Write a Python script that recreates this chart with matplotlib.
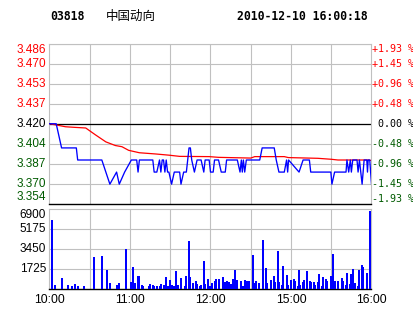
import matplotlib
matplotlib.use("Agg")
import matplotlib.pyplot as plt

# header
code = "03818"
name = "中国动向"
stamp = "2010-12-10 16:00:18"

prev_close = 3.420
lvl = [3.354, 3.3705, 3.387, 3.4035, 3.420, 3.4365, 3.453, 3.4695, 3.486]
lvl_lab = ["3.354", "3.370", "3.387", "3.404", "3.420", "3.437", "3.453", "3.470", "3.486"]
pct_lab = ["-1.93 %", "-1.45 %", "-0.96 %", "-0.48 %", " 0.00 %", "+0.48 %", "+0.96 %", "+1.45 %", "+1.93 %"]

# minute index (0..240 trading minutes) and price vertices
px_t = [0, 5, 7, 9, 20, 21, 39, 42, 45, 50, 52, 56, 61, 65, 66, 67, 77, 78, 80, 82, 83, 84, 85, 86, 87, 88, 89,
        91, 93, 97, 98, 100, 102, 103, 104, 105, 106, 108, 110, 113, 115, 116, 119, 120,
        122, 123, 126, 128, 131, 132, 140, 142, 143, 143.7, 144.5, 145.5, 146.7, 156.7, 158.5, 167.5, 169, 171,
        175, 176.7, 177.5, 178.2, 186, 189, 193.7, 194.7, 209.7, 210.5, 212.5, 221, 221.7, 223, 224.2, 225,
        226, 229.2, 230, 231, 233, 234.5, 236.5, 237, 237.5, 238.7, 240]
px_v = [3.42, 3.42, 3.41, 3.40, 3.40, 3.39, 3.39, 3.38, 3.37, 3.38, 3.37, 3.38, 3.39, 3.39, 3.38, 3.39, 3.39,
        3.38, 3.38, 3.39, 3.38, 3.39, 3.39, 3.38, 3.39, 3.38, 3.38,
        3.37, 3.38, 3.38, 3.37, 3.38, 3.38, 3.39, 3.40, 3.40, 3.39, 3.38, 3.39, 3.39, 3.38, 3.39, 3.39, 3.38,
        3.38, 3.39, 3.39, 3.38, 3.38, 3.39, 3.39, 3.38, 3.39, 3.38, 3.39, 3.38, 3.39, 3.39, 3.40, 3.40, 3.39, 3.38,
        3.38, 3.39, 3.38, 3.39, 3.38, 3.39, 3.39, 3.38, 3.38, 3.37, 3.38, 3.38, 3.39, 3.38, 3.39, 3.38,
        3.39, 3.39, 3.38, 3.39, 3.37, 3.39, 3.39, 3.38, 3.39, 3.39, 3.37]

avg_t = [0, 5, 12, 19, 27, 34, 42, 49, 54, 59, 67, 79, 89, 97, 119, 126, 150, 153, 175, 178, 200, 210, 215, 238, 240]
avg_v = [3.420, 3.419, 3.4175, 3.417, 3.4165, 3.411, 3.405, 3.402, 3.401, 3.398, 3.396, 3.395, 3.394, 3.393,
         3.3928, 3.3922, 3.3916, 3.3928, 3.3928, 3.3920, 3.3914, 3.3906, 3.3900, 3.3900, 3.3895]

vol_t = [2, 4, 9, 14, 17, 19, 21, 26, 33, 39, 43, 45, 50, 52, 57, 61, 62, 64, 66, 67, 69, 70, 74, 75, 77, 78,
         80, 82, 83, 85, 87, 88, 90, 91, 93, 94, 96, 98, 101, 102, 104, 105, 107, 109, 110, 112, 113, 115, 116,
         118, 120, 121, 123, 124, 126, 129, 131, 132, 134, 135, 137, 138, 140, 143, 144, 146, 147, 149, 152, 153,
         154, 156, 159, 161, 162, 165, 167, 168, 170, 171, 173, 174, 177, 178, 180, 182, 183, 185, 186, 187, 189,
         190, 192, 194, 195, 197, 198, 200, 201, 203, 204, 206, 207, 210, 211, 212, 213, 215, 218, 219, 221, 222,
         224, 225, 226, 228, 230, 231, 233, 234, 237, 239, 240]
vol_v = [5965, 263, 877, 263, 175, 351, 175, 175, 2719, 2807, 1579, 439, 263, 439, 3421, 526, 1842, 439, 1053,
         1053, 263, 175, 175, 351, 263, 175, 175, 175, 351, 263, 965, 175, 702, 263, 175, 1491, 263, 877, 175,
         1053, 4123, 965, 439, 614, 351, 175, 263, 2368, 351, 789, 175, 439, 614, 789, 789, 965, 526, 614, 526,
         351, 789, 1579, 702, 614, 175, 702, 614, 614, 2895, 439, 614, 439, 4211, 1754, 439, 702, 1053, 526,
         3246, 526, 263, 1930, 1140, 263, 702, 789, 614, 175, 1579, 263, 526, 702, 1491, 614, 526, 526, 263,
         526, 1228, 175, 965, 789, 614, 1053, 2982, 526, 614, 614, 877, 614, 263, 1316, 351, 1228, 1667, 439,
         175, 1579, 2018, 1842, 1316, 6755, 877]

vol_ticks = [1725, 3450, 5175, 6900]
time_pos = [0, 60, 120, 180, 240]
time_lab = ["10:00", "11:00", "12:00", "15:00", "16:00"]

RED = "#ff0000"
GREEN = "#005a00"
BLUE = "#0000ff"
GRID = "#c0c0c0"

fig = plt.figure(figsize=(4.14, 3.14), dpi=100)
fig.patch.set_facecolor("white")

ax = fig.add_axes([49.5 / 414, 1 - 203.5 / 314, 322 / 414, 159.5 / 314])
axv = fig.add_axes([49.5 / 414, 1 - 288.5 / 314, 322 / 414, 79.5 / 314])

# price panel
ax.set_xlim(0, 240)
ax.set_ylim(lvl[0], lvl[-1])
for y in lvl[1:]:
    ax.axhline(y, color=GRID, lw=0.8, zorder=1)
for x in range(30, 240, 30):
    ax.axvline(x, color=GRID, lw=0.8, zorder=1)
ax.axhline(prev_close, color="black", lw=0.9, zorder=2)
ax.plot(avg_t, avg_v, color=RED, lw=0.9, zorder=3)
ax.plot(px_t, px_v, color=BLUE, lw=0.95, zorder=4)

for s in ["left", "right", "top"]:
    ax.spines[s].set_color(GRID)
    ax.spines[s].set_linewidth(0.8)
ax.spines["bottom"].set_color("black")
ax.spines["bottom"].set_linewidth(1.0)
ax.set_xticks([])
ax.set_yticks([])

for i, y in enumerate(lvl):
    col = RED if i > 4 else ("black" if i == 4 else GREEN)
    va = "top" if i == 8 else ("bottom" if i == 0 else "center")
    ax.text(-2.6, y, lvl_lab[i], ha="right", va=va, color=col, fontsize=8.5,
            family="Liberation Sans", clip_on=False)
    ax.text(240.5, y, pct_lab[i], ha="left", va=va, color=col, fontsize=7.2,
            family="DejaVu Sans Mono", clip_on=False)

# volume panel
axv.set_xlim(0, 240)
axv.set_ylim(0, 6900)
for y in vol_ticks[:-1]:
    axv.axhline(y, color=GRID, lw=0.8, zorder=1)
for x in range(30, 240, 30):
    axv.axvline(x, color=GRID, lw=0.8, zorder=1)
axv.vlines(vol_t, 0, vol_v, color=BLUE, lw=1.1, zorder=3, antialiased=False)
for s in ["left", "right", "top"]:
    axv.spines[s].set_color(GRID)
    axv.spines[s].set_linewidth(0.8)
axv.spines["bottom"].set_color("black")
axv.spines["bottom"].set_linewidth(1.0)
axv.set_yticks([])
axv.set_xticks(time_pos)
axv.set_xticklabels(time_lab, family="Liberation Sans", fontsize=8.8)
axv.tick_params(axis="x", length=0, pad=4)
for v in vol_ticks:
    axv.text(-2.6, v, str(v), ha="right", va="top" if v == 6900 else "center",
             fontsize=8.5, family="Liberation Sans", clip_on=False)

# header text
fig.text(50 / 414, 1 - 17 / 314, code, fontsize=8.3, family="DejaVu Sans Mono", weight="bold", va="center")
fig.text(106 / 414, 1 - 16 / 314, name, fontsize=9, family=["Noto Sans CJK SC", "DejaVu Sans"], va="center")
fig.text(237 / 414, 1 - 17 / 314, stamp, fontsize=8.3, family="DejaVu Sans Mono", weight="bold", va="center")

plt.savefig("out.png", dpi=100)
